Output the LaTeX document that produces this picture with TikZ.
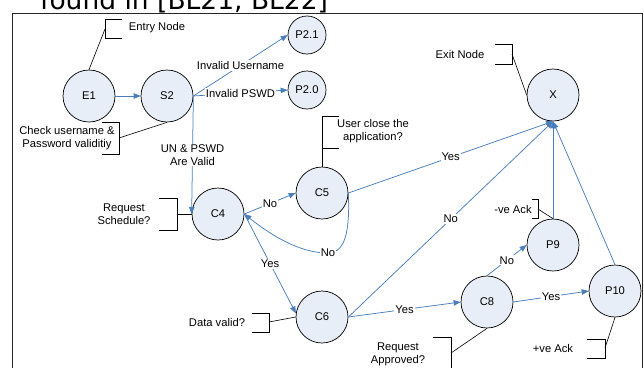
\documentclass[tikz,border=0pt]{standalone}
\usepackage{fontspec}
\setmainfont{Liberation Sans}
\newfontfamily\titlefam{DejaVu Sans}
\usetikzlibrary{arrows.meta}
\definecolor{nodefill}{RGB}{232,238,247}
\definecolor{edgeblue}{RGB}{74,126,187}
\begin{document}
\begin{tikzpicture}[x=1pt,y=-1pt,
  every node/.style={font=\fontsize{11.2}{13}\selectfont},
  state/.style={circle,draw=black,line width=0.7pt,fill=nodefill,minimum size=52pt,inner sep=0pt},
  small/.style={state,minimum size=38pt},
  edge/.style={draw=edgeblue,line width=0.75pt,-{Triangle[length=7pt,width=5.5pt]}},
  lbl/.style={fill=white,inner sep=1pt},
  ann/.style={draw=black,line width=0.6pt},
  txt/.style={inner sep=1pt,align=center}]
\useasboundingbox (0,0) rectangle (644,367);
\clip (0,0) rectangle (644,367);
\node[anchor=base west,inner sep=0pt,font=\titlefam\fontsize{26.5}{30}\selectfont] (title) at (40,9.5) {found in [BL21, BL22]};
\draw[line width=0.9pt,draw=black!85] (12,13) rectangle (642.5,390);

% states
\node[state] (E1) at (89,96) {E1};
\node[state] (S2) at (167,96) {S2};
\node[small] (P21) at (307,35) {P2.1};
\node[small] (P20) at (307,90) {P2.0};
\node[state] (X) at (553,95) {X};
\node[state] (C4) at (218,214) {C4};
\node[state] (C5) at (322,193) {C5};
\node[state] (C6) at (322,317) {C6};
\node[state] (C8) at (487,302) {C8};
\node[state] (P9) at (553,245) {P9};
\node[state] (P10) at (615,291) {P10};

% connectors
\draw[edge] (E1) -- (S2);
\draw[edge] (S2.east) -- node[lbl] {Invalid Username} (P21.west);
\draw[edge] (S2.east) -- node[lbl] {Invalid PSWD} (P20.west);
\draw[edge] (S2.east) -- node[lbl,align=center] {UN \& PSWD\\Are Valid} (C4.west);
\draw[edge] (C4.east) -- node[lbl] {No} (C5.west);
\draw[edge] (C5.east) .. controls (350,232) and (345,253) .. (328,253) node[lbl] {No} .. controls (300,253) and (272,236) .. (C4.east);
\draw[edge] (C5.east) -- node[lbl] {Yes} (X.south);
\draw[edge] (C4.east) -- node[lbl] {Yes} (C6.172);
\draw[edge] (C6.east) -- node[lbl] {No} (X.south);
\draw[edge] (C6.east) -- node[lbl] {Yes} (C8.west);
\draw[edge] (C8.north) -- node[lbl] {No} (P9.west);
\draw[edge] (C8.east) -- node[lbl] {Yes} (P10.west);
\draw[edge] (P9.north) -- (X.south);
\draw[edge] (P10.north) -- (X.south);

% annotations
\node[txt] (tEntry) at (157,28) {Entry Node};
\draw[ann] (122,19) -- (105,19) -- (105,38) -- (122,38);
\coordinate (bEntry) at (105,29);
\draw[ann] (bEntry) -- (E1.north);

\node[txt] (tExit) at (460,54) {Exit Node};
\draw[ann] (495,44) -- (512,44) -- (512,64) -- (495,64);
\coordinate (bExit) at (512,54);
\draw[ann] (bExit) -- (X.west);

\node[txt] (tCheck) at (67,138) {Check username \&\\Password validitiy};
\draw[ann] (102,122) -- (119,122) -- (119,154) -- (102,154);
\coordinate (bCheck) at (119,138);
\draw[ann] (bCheck) -- (S2.south);

\node[txt] (tReq) at (124,214) {Request\\Schedule?};
\draw[ann] (159,198) -- (177,198) -- (177,230) -- (159,230);
\coordinate (bReq) at (177,214);
\draw[ann] (bReq) -- (C4.west);

\node[txt] (tUser) at (373,131) {User close the\\application?};
\draw[ann] (339,116) -- (322,116) -- (322,148) -- (339,148);
\coordinate (bUser) at (322,132);
\draw[ann] (bUser) -- (C5.north);

\node[txt] (tData) at (217,322) {Data valid?};
\draw[ann] (252,313) -- (269,313) -- (269,332) -- (252,332);
\coordinate (bData) at (269,322);
\draw[ann] (bData) -- (C6.west);

\node[txt] (tNeg) at (513,209) {-ve Ack};
\draw[ann] (532,199) -- (538,199) -- (538,218) -- (532,218);
\coordinate (bNeg) at (538,209);
\draw[ann] (bNeg) -- (P9.north);

\node[txt] (tAppr) at (398,354) {Request\\Approved?};
\draw[ann] (433,337) -- (451,337) -- (451,375);
\coordinate (bAppr) at (451,353);
\draw[ann] (bAppr) -- (C8.south);

\node[txt] (tPos) at (553,348) {+ve Ack};
\draw[ann] (587,339) -- (605,339) -- (605,358) -- (587,358);
\coordinate (bPos) at (605,348);
\draw[ann] (bPos) -- (P10.south);
\end{tikzpicture}
\end{document}
